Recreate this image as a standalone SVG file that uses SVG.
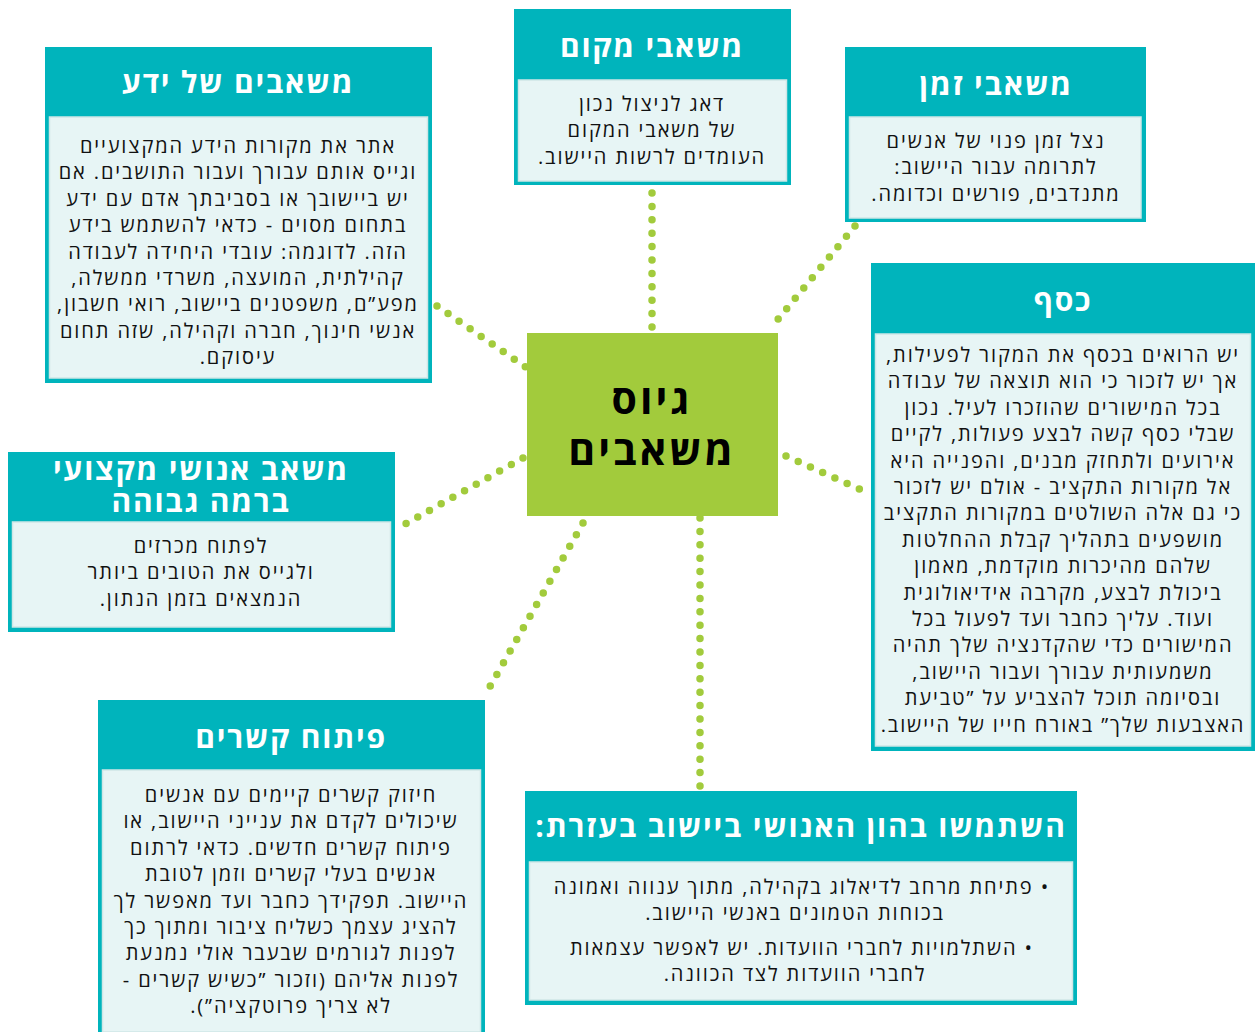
<svg xmlns="http://www.w3.org/2000/svg" width="1255" height="1032" viewBox="0 0 1255 1032">
<style>
.outer{fill:#00b4bc;}
.inner{fill:#e7f5f5;stroke:#cfe6e6;stroke-width:1.5;}
.title{font-family:"Open Sans","DejaVu Sans",sans-serif;font-weight:bold;font-size:30px;letter-spacing:1.8px;fill:#ffffff;text-anchor:middle;direction:rtl;}
.body{font-family:"Open Sans","DejaVu Sans",sans-serif;font-size:20px;letter-spacing:1.9px;fill:#111111;text-anchor:middle;direction:rtl;}
.center{font-family:"Open Sans","DejaVu Sans",sans-serif;font-weight:bold;font-size:41px;letter-spacing:3px;fill:#000000;text-anchor:middle;direction:rtl;}
.dots{stroke:#a2cb3c;stroke-width:7.5;stroke-linecap:round;stroke-dasharray:0 13.4;fill:none;}
</style>
<rect width="1255" height="1032" fill="#ffffff"/>
<g id="connectors">
<line class="dots" x1="437" y1="306" x2="527" y2="368"/>
<line class="dots" x1="652" y1="193" x2="652" y2="328"/>
<line class="dots" x1="855" y1="226" x2="774" y2="324"/>
<line class="dots" x1="786" y1="456" x2="866" y2="492"/>
<line class="dots" x1="523" y1="458" x2="398" y2="528"/>
<line class="dots" x1="583" y1="523" x2="488" y2="690"/>
<line class="dots" x1="700" y1="518" x2="700" y2="787"/>
</g>
<g id="center">
<rect x="527" y="333" width="251" height="183" fill="#a2cb3c"/>
<text class="center" x="652" y="414">גיוס</text>
<text class="center" x="652" y="465">משאבים</text>
</g>
<g id="knowledge">
<rect class="outer" x="45" y="47" width="387" height="336"/>
<rect class="inner" x="49.5" y="117" width="378" height="261"/>
<text class="title" x="238" y="93">משאבים של ידע</text>
<text class="body" x="238" y="153">אתר את מקורות הידע המקצועיים</text>
<text class="body" x="238" y="179.4">וגייס אותם עבורך ועבור התושבים. אם</text>
<text class="body" x="238" y="205.8">יש ביישובך או בסביבתך אדם עם ידע</text>
<text class="body" x="238" y="232.2">בתחום מסוים - כדאי להשתמש בידע</text>
<text class="body" x="238" y="258.6">הזה. לדוגמה: עובדי היחידה לעבודה</text>
<text class="body" x="238" y="285">קהילתית, המועצה, משרדי ממשלה,</text>
<text class="body" x="238" y="311.4">מפע”ם, משפטנים ביישוב, רואי חשבון,</text>
<text class="body" x="238" y="337.8">אנשי חינוך, חברה וקהילה, שזה תחום</text>
<text class="body" x="238" y="364.2">עיסוקם.</text>
</g>
<g id="place">
<rect class="outer" x="514" y="9" width="277" height="176"/>
<rect class="inner" x="518.5" y="80" width="268" height="101"/>
<text class="title" x="652" y="57">משאבי מקום</text>
<text class="body" x="652" y="111">דאג לניצול נכון</text>
<text class="body" x="652" y="137.4">של משאבי המקום</text>
<text class="body" x="652" y="163.8">העומדים לרשות היישוב.</text>
</g>
<g id="time">
<rect class="outer" x="845" y="47" width="301" height="175"/>
<rect class="inner" x="849.5" y="117" width="291.5" height="101"/>
<text class="title" x="996" y="95">משאבי זמן</text>
<text class="body" x="996" y="148">נצל זמן פנוי של אנשים</text>
<text class="body" x="996" y="174.4">לתרומה עבור היישוב:</text>
<text class="body" x="996" y="200.8">מתנדבים, פורשים וכדומה.</text>
</g>
<g id="money">
<rect class="outer" x="871" y="263" width="384" height="488"/>
<rect class="inner" x="875.5" y="334" width="375" height="412"/>
<text class="title" x="1063" y="311">כסף</text>
<text class="body" x="1063" y="362">יש הרואים בכסף את המקור לפעילות,</text>
<text class="body" x="1063" y="388.4">אך יש לזכור כי הוא תוצאה של עבודה</text>
<text class="body" x="1063" y="414.8">בכל המישורים שהוזכרו לעיל. נכון</text>
<text class="body" x="1063" y="441.2">שבלי כסף קשה לבצע פעולות, לקיים</text>
<text class="body" x="1063" y="467.6">אירועים ולתחזק מבנים, והפנייה היא</text>
<text class="body" x="1063" y="494">אל מקורות התקציב - אולם יש לזכור</text>
<text class="body" x="1063" y="520.4">כי גם אלה השולטים במקורות התקציב</text>
<text class="body" x="1063" y="546.8">מושפעים בתהליך קבלת ההחלטות</text>
<text class="body" x="1063" y="573.2">שלהם מהיכרות מוקדמת, מאמון</text>
<text class="body" x="1063" y="599.6">ביכולת לבצע, מקרבה אידיאולוגית</text>
<text class="body" x="1063" y="626">ועוד. עליך כחבר ועד לפעול בכל</text>
<text class="body" x="1063" y="652.4">המישורים כדי שהקדנציה שלך תהיה</text>
<text class="body" x="1063" y="678.8">משמעותית עבורך ועבור היישוב,</text>
<text class="body" x="1063" y="705.2">ובסיומה תוכל להצביע על ”טביעת</text>
<text class="body" x="1063" y="731.6">האצבעות שלך” באורח חייו של היישוב.</text>
</g>
<g id="professionals">
<rect class="outer" x="8" y="452" width="387" height="180"/>
<rect class="inner" x="12.5" y="522" width="378" height="105"/>
<text class="title" x="201" y="480">משאב אנושי מקצועי</text>
<text class="title" x="201" y="512">ברמה גבוהה</text>
<text class="body" x="201" y="553">לפתוח מכרזים</text>
<text class="body" x="201" y="579.4">ולגייס את הטובים ביותר</text>
<text class="body" x="201" y="605.8">הנמצאים בזמן הנתון.</text>
</g>
<g id="connections">
<rect class="outer" x="98" y="700" width="387" height="332"/>
<rect class="inner" x="102.5" y="770" width="378" height="262"/>
<text class="title" x="291" y="748">פיתוח קשרים</text>
<text class="body" x="291" y="802">חיזוק קשרים קיימים עם אנשים</text>
<text class="body" x="291" y="828.4">שיכולים לקדם את ענייני היישוב, או</text>
<text class="body" x="291" y="854.8">פיתוח קשרים חדשים. כדאי לרתום</text>
<text class="body" x="291" y="881.2">אנשים בעלי קשרים וזמן לטובת</text>
<text class="body" x="291" y="907.6">היישוב. תפקידך כחבר ועד מאפשר לך</text>
<text class="body" x="291" y="934">להציג עצמך כשליח ציבור ומתוך כך</text>
<text class="body" x="291" y="960.4">לפנות לגורמים שבעבר אולי נמנעת</text>
<text class="body" x="291" y="986.8">לפנות אליהם (וזכור ”כשיש קשרים -</text>
<text class="body" x="291" y="1013.2">לא צריך פרוטקציה”).</text>
</g>
<g id="human-capital">
<rect class="outer" x="525" y="791" width="552" height="214"/>
<rect class="inner" x="529.5" y="862" width="543" height="138"/>
<text class="title" x="801" y="837">השתמשו בהון האנושי ביישוב בעזרת:</text>
<text class="body" x="802" y="894">• פתיחת מרחב לדיאלוג בקהילה, מתוך ענווה ואמונה</text>
<text class="body" x="795" y="920.4">בכוחות הטמונים באנשי היישוב.</text>
<text class="body" x="802" y="955">• השתלמויות לחברי הוועדות. יש לאפשר עצמאות</text>
<text class="body" x="795" y="981.4">לחברי הוועדות לצד הכוונה.</text>
</g>
</svg>
